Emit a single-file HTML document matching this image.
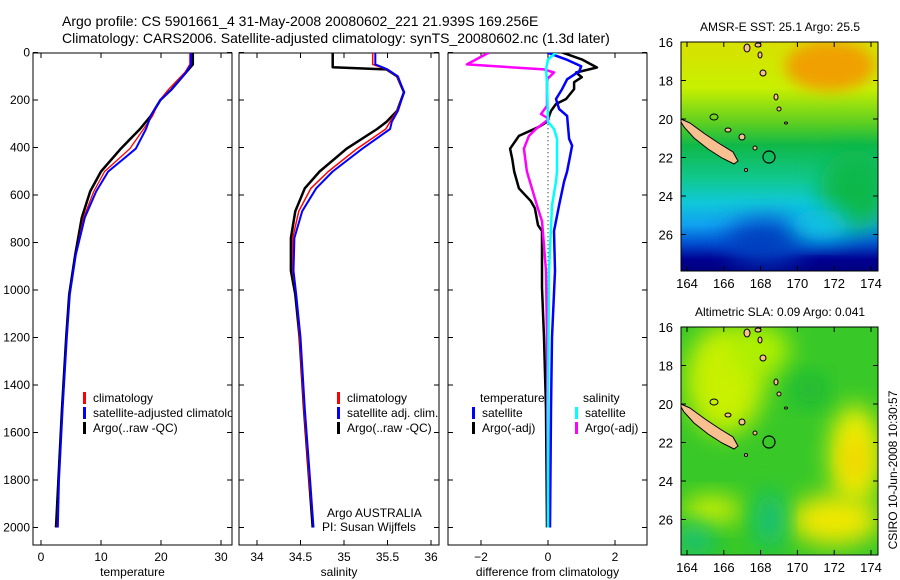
<!DOCTYPE html>
<html><head><meta charset="utf-8"><style>
body{margin:0;background:#fff;}
svg{display:block;font-family:"Liberation Sans",sans-serif;}
text{fill:#000;}
</style></head><body>
<svg id="fig" width="900" height="580" viewBox="0 0 900 580">
<defs>
<filter id="bl" x="-50%" y="-50%" width="200%" height="200%"><feGaussianBlur stdDeviation="12"/></filter>
<filter id="bl2" x="-50%" y="-50%" width="200%" height="200%"><feGaussianBlur stdDeviation="7"/></filter>
<clipPath id="c1"><rect x="33" y="53" width="199" height="492"/></clipPath>
<clipPath id="c2"><rect x="239" y="53" width="200" height="492"/></clipPath>
<clipPath id="c3"><rect x="448" y="53" width="199" height="492"/></clipPath>
<clipPath id="m1"><rect x="681" y="42" width="197" height="229"/></clipPath>
<clipPath id="m2"><rect x="681" y="327" width="197" height="228"/></clipPath>
<linearGradient id="g1" x1="0" y1="0" x2="0" y2="1">
<stop offset="0" stop-color="#d8e000"/><stop offset="0.2" stop-color="#c8f000"/><stop offset="0.35" stop-color="#60d020"/><stop offset="0.45" stop-color="#10b848"/><stop offset="0.6" stop-color="#10c890"/><stop offset="0.7" stop-color="#10c8d8"/><stop offset="0.8" stop-color="#10a0f0"/><stop offset="0.88" stop-color="#0050d0"/><stop offset="0.95" stop-color="#000090"/><stop offset="1" stop-color="#000080"/>
</linearGradient>
</defs>
<text x="62" y="26" font-size="14">Argo profile: CS 5901661_4 31-May-2008 20080602_221 21.939S 169.256E</text>
<text x="62" y="43" font-size="14">Climatology: CARS2006. Satellite-adjusted climatology: synTS_20080602.nc (1.3d later)</text>
<g id="p1"></g>
<g id="p2"></g>
<g id="p3"></g>
<g id="maps">
<g clip-path="url(#m1)">
<rect x="681" y="42" width="197" height="229" fill="url(#g1)"/>
<ellipse cx="830" cy="66" rx="45" ry="25" fill="#f0a000" filter="url(#bl2)"/>
<ellipse cx="855" cy="190" rx="35" ry="40" fill="#10b848" filter="url(#bl)"/>
<ellipse cx="765" cy="242" rx="40" ry="22" fill="#0040c0" filter="url(#bl)"/>
<ellipse cx="820" cy="225" rx="30" ry="15" fill="#10c8e0" filter="url(#bl)"/>
</g>
<g clip-path="url(#m2)">
<rect x="681" y="327" width="197" height="228" fill="#38c828"/>
<ellipse cx="725" cy="380" rx="40" ry="55" fill="#c8f000" filter="url(#bl)"/>
<ellipse cx="760" cy="350" rx="30" ry="25" fill="#b0f000" filter="url(#bl)"/>
<ellipse cx="855" cy="455" rx="25" ry="50" fill="#f0f000" filter="url(#bl)"/>
<ellipse cx="855" cy="460" rx="12" ry="25" fill="#f0d000" filter="url(#bl)"/>
<ellipse cx="835" cy="520" rx="45" ry="25" fill="#f0e800" filter="url(#bl)"/>
<ellipse cx="712" cy="510" rx="30" ry="14" fill="#d0f000" filter="url(#bl)"/>
<ellipse cx="810" cy="390" rx="14" ry="14" fill="#10b040" filter="url(#bl)"/>
<ellipse cx="770" cy="520" rx="14" ry="28" fill="#10c080" filter="url(#bl)"/>
<ellipse cx="695" cy="540" rx="18" ry="15" fill="#10c080" filter="url(#bl)"/>
</g>
</g>
<text transform="translate(897,470) rotate(-90)" font-size="12" text-anchor="middle">CSIRO 10-Jun-2008 10:30:57</text>
</svg>
<script>
// temperature profiles
const tDepth=[0,50,83,154,200,267,322,405,501,585,695,852,1019,1200,1500,1800,2000];
const tArgo=[25.3,25.3,24.2,21.8,19.9,18.3,16.5,13.3,10.0,8.2,6.8,5.7,4.7,4.2,3.5,2.9,2.5];
const tClim=[24.8,24.8,24.0,21.3,19.8,18.6,17.1,14.8,10.6,8.8,7.1,5.8,4.8,4.3,3.6,3.0,2.7];
const tSat=[25.0,25.0,24.2,21.8,19.9,18.3,17.5,15.8,11.2,9.2,7.3,5.8,4.8,4.3,3.6,3.0,2.8];
// salinity profiles
const sDepth=[0,50,62,71,100,167,246,292,322,405,501,572,668,781,919,1019,1200,1500,1800,2000];
const sArgo=[34.87,34.87,34.87,35.49,35.61,35.69,35.61,35.49,35.38,35.03,34.72,34.55,34.44,34.39,34.39,34.44,34.49,34.54,34.6,34.64];
const sClim=[35.33,35.33,35.42,35.49,35.61,35.69,35.61,35.53,35.48,35.15,34.82,34.62,34.48,34.41,34.41,34.45,34.49,34.54,34.6,34.65];
const sSat=[35.36,35.36,35.44,35.5,35.62,35.69,35.62,35.55,35.53,35.21,34.87,34.68,34.52,34.43,34.42,34.45,34.5,34.55,34.61,34.65];
// differences
const dTArgoDepth=[0,29,63,84,104,125,154,196,217,246,292,313,351,405,447,501,572,626,656,727,752,990,1200,1500,2000];
const dTArgo=[0.42,1.01,1.46,0.84,1.01,0.78,0.78,0.54,0.24,0.09,-0.03,-0.27,-0.87,-1.13,-1.07,-1.01,-0.87,-0.51,-0.39,-0.30,-0.18,-0.18,-0.12,-0.06,-0.03];
const dSArgoDepth=[0,50,71,84,113,225,259,280,322,351,405,501,572,643,710,919,1200,1500,2000];
const dSArgo=[-1.76,-2.42,-0.12,0.18,-0.03,-0.03,-0.21,0.03,-0.36,-0.57,-0.72,-0.63,-0.48,-0.33,-0.18,-0.06,-0.03,-0.02,0];
const dTSatDepth=[0,29,58,79,113,154,196,238,267,363,392,501,543,643,752,919,1200,1500,2000];
const dTSat=[-0.03,0.54,0.99,0.93,0.57,0.42,0.24,0.33,0.57,0.63,0.72,0.57,0.48,0.33,0.18,0.21,0.12,0.09,0.06];
const dSSatDepth=[0,29,71,125,292,322,363,501,543,643,919,1500,2000];
const dSSat=[0.24,0,-0.06,-0.03,0,0.18,0.27,0.27,0.24,0.12,0.03,0,0];
const depthTicks=[0,200,400,600,800,1000,1200,1400,1600,1800,2000];
const tTicks=[0,10,20,30];
const sTicks=[34,34.5,35,35.5,36];
const dTicks=[-2,0,2];
const lonTicks=[164,166,168,170,172,174];
const latTicks=[16,18,20,22,24,26];

const NS='http://www.w3.org/2000/svg';
function mk(parent,tag,attrs,txt){const e=document.createElementNS(NS,tag);for(const k in attrs)e.setAttribute(k,attrs[k]);if(txt!==undefined)e.textContent=txt;parent.appendChild(e);return e;}
const yP=p=>52.5+p*0.2375;
const xT=t=>41+6*t;
const xS=s=>257+87*(s-34);
const xD=d=>548+33.5*d;

function frame(g,x0,x1,xs,xticks,xfmt,label,showY){
  const r=mk(g,'rect',{x:x0,y:53,width:x1-x0,height:492,fill:'#fff',stroke:'#000','stroke-width':1});
  
  
  depthTicks.forEach(p=>{const y=yP(p);
    mk(g,'line',{x1:x0,y1:y,x2:x0+5,y2:y,stroke:'#000'});
    mk(g,'line',{x1:x1,y1:y,x2:x1-5,y2:y,stroke:'#000'});
    if(showY){const t=mk(g,'text',{x:x0-3,y:y+4,'font-size':12,'text-anchor':'end'},String(p));
      
      }
  });
  xticks.forEach(v=>{const x=xs(v);
    mk(g,'line',{x1:x,y1:53,x2:x,y2:58,stroke:'#000'});
    mk(g,'line',{x1:x,y1:545,x2:x,y2:540,stroke:'#000'});
    const t=mk(g,'text',{x:x,y:561,'font-size':12,'text-anchor':'middle'},xfmt(v));
    
    
  });
  const l=mk(g,'text',{x:(x0+x1)/2,y:576,'font-size':12,'text-anchor':'middle'},label);
  
  
}
function line(g,depths,vals,xs,color,w,name,clip){
  const d=depths.map((p,i)=>(i?'L':'M')+xs(vals[i]).toFixed(1)+','+yP(p).toFixed(1)).join('');
  const e=mk(g,'path',{d:d,fill:'none',stroke:color,'stroke-width':w,'clip-path':'url(#'+clip+')','stroke-linejoin':'round'});
  
  
}
function legend(g,x,y,color,txt,clip){
  mk(g,'rect',{x:x,y:y-10,width:3,height:12,fill:color});
  const t=mk(g,'text',{x:x+10,y:y,'font-size':12,'clip-path':clip?'url(#'+clip+')':''},txt);
  
  
}
const p1=document.getElementById('p1'),p2=document.getElementById('p2'),p3=document.getElementById('p3');
frame(p1,33,232,xT,tTicks,String,'temperature',true);
line(p1,tDepth,tArgo,xT,'#000',2.5,'temp-argo-line','c1');
line(p1,tDepth,tClim,xT,'#f00',1.3,'temp-clim-line','c1');
line(p1,tDepth,tSat,xT,'#00f',2,'temp-sat-line','c1');
legend(p1,83,402,'#f00','climatology');
legend(p1,83,417,'#00f','satellite-adjusted climatology','c1');
legend(p1,83,432,'#000','Argo(..raw -QC)');

frame(p2,239,439,xS,sTicks,String,'salinity',false);
line(p2,sDepth,sArgo,xS,'#000',2.5,'sal-argo-line','c2');
line(p2,sDepth,sClim,xS,'#f00',1.5,'sal-clim-line','c2');
line(p2,sDepth,sSat,xS,'#00f',2,'sal-sat-line','c2');
legend(p2,337,402,'#f00','climatology');
legend(p2,337,417,'#00f','satellite adj. clim.');
legend(p2,337,432,'#000','Argo(..raw -QC)');
let t1=mk(p2,'text',{x:327,y:517,'font-size':12},'Argo AUSTRALIA');


let t2=mk(p2,'text',{x:322,y:531,'font-size':12},'PI: Susan Wijffels');



frame(p3,448,647,xD,dTicks,v=>v<0?'\u2212'+(-v):String(v),'difference from climatology',false);
mk(p3,'line',{x1:xD(0),y1:yP(100),x2:xD(0),y2:yP(2000),stroke:'#000','stroke-dasharray':'1,3'});
line(p3,dTArgoDepth,dTArgo,xD,'#000',2.5,'dtemp-argo-line','c3');
line(p3,dSArgoDepth,dSArgo,xD,'#f0f',2.5,'dsal-argo-line','c3');
line(p3,dTSatDepth,dTSat,xD,'#00f',2.5,'dtemp-sat-line','c3');
line(p3,dSSatDepth,dSSat,xD,'#0ff',2.5,'dsal-sat-line','c3');
let th=mk(p3,'text',{x:480,y:402,'font-size':12},'temperature');


let sh=mk(p3,'text',{x:583,y:402,'font-size':12},'salinity');


legend(p3,472,417,'#00f','satellite');
legend(p3,472,432,'#000','Argo(-adj)');
legend(p3,575,417,'#0ff','satellite');
legend(p3,575,432,'#f0f','Argo(-adj)');

// maps
const maps=document.getElementById('maps');
const lonX=l=>687+18.4*(l-164);
function mapAxes(top,bot,lat16y,title,name){
  const g=mk(maps,'g',{});
  
  
  const dy=l=>lat16y+19.25*(l-16);
  mk(g,'rect',{x:681,y:top,width:197,height:bot-top,fill:'none',stroke:'#000'});
  latTicks.forEach(l=>{const y=dy(l);
    mk(g,'line',{x1:681,y1:y,x2:686,y2:y,stroke:'#000'});
    mk(g,'line',{x1:878,y1:y,x2:873,y2:y,stroke:'#000'});
    const t=mk(g,'text',{x:673,y:y+5,'font-size':13,'text-anchor':'end'},String(l));
    
    });
  lonTicks.forEach(l=>{const x=lonX(l);
    mk(g,'line',{x1:x,y1:top,x2:x,y2:top+5,stroke:'#000'});
    mk(g,'line',{x1:x,y1:bot,x2:x,y2:bot-5,stroke:'#000'});
    const t=mk(g,'text',{x:x,y:bot+17,'font-size':13,'text-anchor':'middle'},String(l));
    
    });
  const tt=mk(g,'text',{x:780,y:top-11,'font-size':12,'text-anchor':'middle'},title);
  
  
  const off=lat16y-42;
  const nc=[[681,119],[690,123],[705,134],[720,144],[733,152],[738,161],[734,164],[722,158],[708,149],[694,138],[684,127],[681,122]];
  const isl=mk(g,'polygon',{points:nc.map(p=>p[0]+','+(p[1]+off)).join(' '),fill:'#f8c090',stroke:'#000','stroke-width':1});
  
  
  [[747,48,3,4],[758,45,3,2],[760,55,2,3],[763,73,3,3],[776,97,2,3],[779,109,2,2],[728,130,3,2],[742,137,3,3],[755,148,2,2],[746,170,1.5,1.5],[786,123,1.5,1]].forEach(s=>{
    const e=mk(g,'ellipse',{cx:s[0],cy:s[1]+off,rx:s[2],ry:s[3],fill:'#f8c090',stroke:'#000','stroke-width':1});
    
    });
  mk(g,'ellipse',{cx:714,cy:117+off,rx:4,ry:3,fill:'none',stroke:'#000'});
  const c=mk(g,'circle',{cx:769,cy:157+off,r:6,fill:'none',stroke:'#000','stroke-width':1.2});
  
  
}
mapAxes(42,271,42,'AMSR-E SST: 25.1 Argo: 25.5','sst-map-axes');
mapAxes(327,555,327,'Altimetric SLA: 0.09 Argo: 0.041','sla-map-axes');
</script>
</body></html>
